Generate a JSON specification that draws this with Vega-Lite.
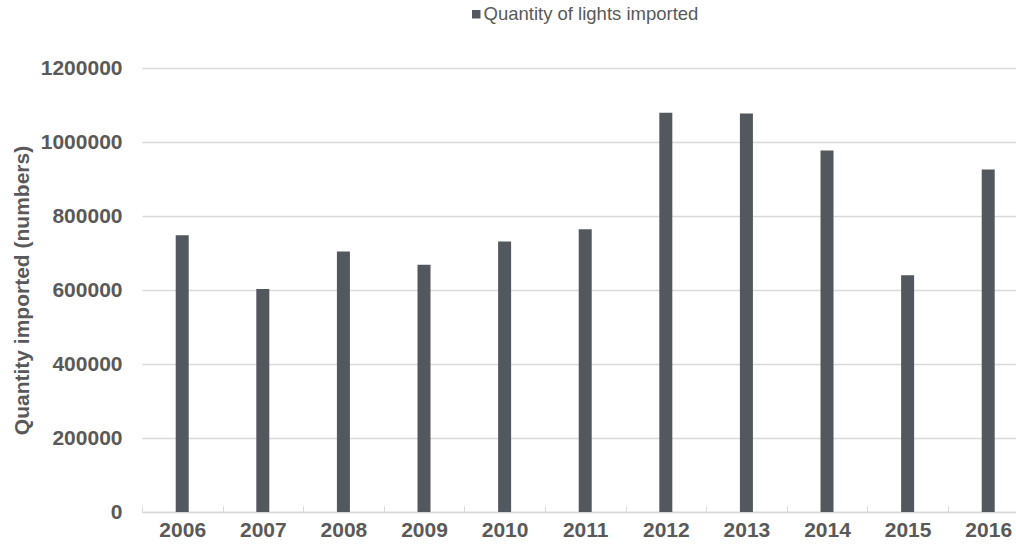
{
  "$schema": "https://vega.github.io/schema/vega-lite/v6.json",
  "autosize": {"type": "none"},
  "padding": {"left": 142, "top": 68, "right": 0, "bottom": 38},
  "width": 874,
  "height": 444,
  "background": "white",
  "config": {
    "view": {"stroke": null},
    "font": "Liberation Sans"
  },
  "data": {
    "values": [
      {"year": "2006", "quantity": 748000},
      {"year": "2007", "quantity": 603000},
      {"year": "2008", "quantity": 704000},
      {"year": "2009", "quantity": 668000},
      {"year": "2010", "quantity": 731000},
      {"year": "2011", "quantity": 764000},
      {"year": "2012", "quantity": 1079000},
      {"year": "2013", "quantity": 1077000},
      {"year": "2014", "quantity": 977000},
      {"year": "2015", "quantity": 640000},
      {"year": "2016", "quantity": 926000}
    ]
  },
  "mark": {"type": "bar"},
  "encoding": {
    "x": {
      "field": "year",
      "type": "nominal",
      "sort": null,
      "scale": {"paddingInner": 0.8387, "paddingOuter": 0.3412, "align": 0.613},
      "axis": {
        "title": null,
        "labelAngle": 0,
        "labelFont": "Liberation Sans",
        "labelFontSize": 21,
        "labelFontWeight": "bold",
        "labelColor": "#595959",
        "labelPadding": 13,
        "labelOffset": 40.3,
        "tickOffset": -40.3,
        "tickSize": -6,
        "tickColor": "#D9D9D9",
        "domainColor": "#D9D9D9",
        "domainWidth": 1.5,
        "grid": false
      }
    },
    "y": {
      "field": "quantity",
      "type": "quantitative",
      "scale": {"domain": [0, 1200000]},
      "axis": {
        "title": "Quantity imported (numbers)",
        "titleFont": "Liberation Sans",
        "titleFontSize": 21,
        "titleFontWeight": "bold",
        "titleColor": "#595959",
        "titlePadding": 8,
        "values": [0, 200000, 400000, 600000, 800000, 1000000, 1200000],
        "format": "d",
        "labelFont": "Liberation Sans",
        "labelFontSize": 21,
        "labelFontWeight": "bold",
        "labelColor": "#595959",
        "labelPadding": 20,
        "ticks": false,
        "domain": false,
        "grid": true,
        "gridColor": "#D9D9D9",
        "gridWidth": 1.5
      }
    },
    "color": {
      "datum": "Quantity of lights imported",
      "scale": {"range": ["#53575E"]},
      "legend": {
        "title": null,
        "orient": "none",
        "legendX": 325,
        "legendY": -63,
        "padding": 0,
        "symbolType": "square",
        "symbolSize": 72,
        "symbolStrokeWidth": 0,
        "labelFont": "Liberation Sans",
        "labelFontSize": 18.5,
        "labelColor": "#595959",
        "labelOffset": -2,
        "labelLimit": 500
      }
    }
  }
}
